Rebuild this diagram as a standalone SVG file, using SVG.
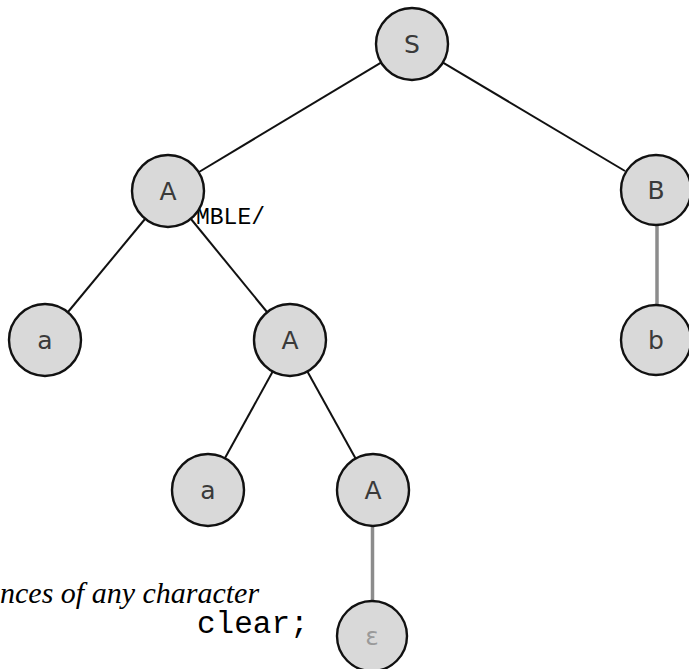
<svg xmlns="http://www.w3.org/2000/svg" width="689" height="669" viewBox="0 0 689 669">
  <style>
    .node circle { fill: #d9d9d9; stroke: #111; stroke-width: 2.4; }
    .node text { font-family: "DejaVu Sans", sans-serif; font-size: 25px; fill: #3a3a3a; text-anchor: middle; dominant-baseline: central; }
    .node text.faint { fill: #9a9a9a; }
    .edge { stroke: #111; stroke-width: 2; fill: none; }
    .edge.gray { stroke: #8c8c8c; stroke-width: 3.5; }
    .mono { font-family: "Liberation Mono", monospace; fill: #000; }
    .ital { font-family: "Liberation Serif", serif; font-style: italic; font-size: 30px; fill: #000; }
  </style>
  <rect width="689" height="669" fill="#fff"/>

  <!-- surrounding document text -->
  <text class="mono" x="196" y="224" font-size="23">MBLE/</text>
  <text class="ital" x="0" y="603">nces of any character</text>
  <text class="mono" x="197" y="633" font-size="31">clear;</text>

  <!-- connectors -->
  <g id="edges">
    <line class="edge" x1="381" y1="62.6" x2="199" y2="172"/>
    <line class="edge" x1="443" y1="62.6" x2="625" y2="171"/>
    <line class="edge" x1="145" y1="219" x2="68" y2="312"/>
    <line class="edge" x1="191" y1="219" x2="267" y2="312"/>
    <line class="edge" x1="272.7" y1="371.6" x2="225" y2="458"/>
    <line class="edge" x1="307.4" y1="371.5" x2="355.6" y2="458.5"/>
    <line class="edge gray" x1="657" y1="225" x2="657" y2="304"/>
    <line class="edge gray" x1="372.5" y1="526" x2="372.5" y2="600"/>
  </g>

  <!-- parse tree nodes -->
  <g id="node-S" class="node"><circle cx="412" cy="44" r="36"/><text x="412" y="44">S</text></g>
  <g id="node-A1" class="node"><circle cx="168" cy="191" r="36"/><text x="168" y="191">A</text></g>
  <g id="node-B" class="node"><circle cx="656" cy="190" r="35"/><text x="656" y="190">B</text></g>
  <g id="node-a1" class="node"><circle cx="45" cy="340" r="36"/><text x="45" y="340">a</text></g>
  <g id="node-A2" class="node"><circle cx="290" cy="340" r="36"/><text x="290" y="340">A</text></g>
  <g id="node-b" class="node"><circle cx="656" cy="340" r="35"/><text x="656" y="340">b</text></g>
  <g id="node-a2" class="node"><circle cx="208" cy="490" r="36"/><text x="208" y="490">a</text></g>
  <g id="node-A3" class="node"><circle cx="373" cy="490" r="36"/><text x="373" y="490">A</text></g>
  <g id="node-eps" class="node"><circle cx="372" cy="636" r="35"/><text class="faint" x="372" y="636">ε</text></g>
</svg>
